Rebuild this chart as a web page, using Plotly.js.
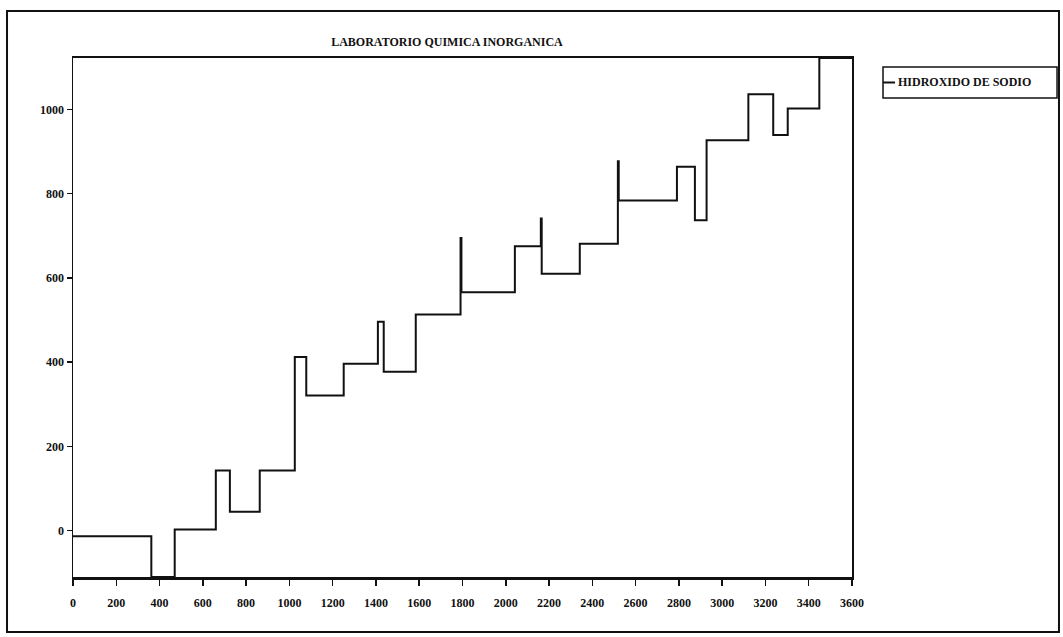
<!DOCTYPE html>
<html>
<head>
<meta charset="utf-8">
<script src="https://cdn.plot.ly/plotly-3.0.1.min.js"></script>
<style>
  html, body { margin: 0; padding: 0; background: #ffffff; }
  #chart { width: 1063px; height: 637px; }
</style>
</head>
<body>
<div id="chart"></div>
<script>
// Step change points (x) and the level held from each point onward (y)
const stepX = [0, 362, 470, 660, 725, 863, 1025, 1078, 1251, 1409, 1436, 1584, 1791, 1795, 2042, 2162, 2166, 2342, 2518, 2522, 2791, 2874, 2928, 3121, 3236, 3303, 3449, 3600];
const stepY = [-13, -110, 3, 143, 45, 143, 412, 321, 396, 496, 377, 513, 695, 566, 675, 741, 610, 681, 877, 784, 864, 737, 927, 1036, 939, 1002, 1122, 1122];

const seriesName = "HIDROXIDO DE SODIO";
const chartTitle = "LABORATORIO QUIMICA INORGANICA";
const xTickVals = [0, 200, 400, 600, 800, 1000, 1200, 1400, 1600, 1800, 2000, 2200, 2400, 2600, 2800, 3000, 3200, 3400, 3600];
const yTickVals = [0, 200, 400, 600, 800, 1000];

const FONT = "Liberation Serif, Times New Roman, serif";

const trace = {
  x: stepX,
  y: stepY,
  type: "scatter",
  mode: "lines",
  name: seriesName,
  line: { shape: "hv", color: "#111111", width: 2 },
  showlegend: false
};

const layout = {
  width: 1063,
  height: 637,
  margin: { l: 73, r: 211, t: 58, b: 60, pad: 0 },
  paper_bgcolor: "#ffffff",
  plot_bgcolor: "#ffffff",
  font: { family: FONT, color: "#111111", size: 12 },
  title: {
    text: chartTitle,
    font: { family: FONT, size: 12, color: "#111111", weight: "bold" },
    x: 0.4205, xanchor: "center", xref: "container",
    y: 0.934, yanchor: "middle", yref: "container"
  },
  xaxis: {
    range: [0, 3600],
    tickvals: xTickVals,
    ticktext: xTickVals.map(String),
    ticks: "outside", ticklen: 6, tickwidth: 1.5, tickcolor: "#111111",
    ticklabelstandoff: 7,
    showline: true, linecolor: "#111111", linewidth: 2.5, mirror: true,
    showgrid: false, zeroline: false,
    tickfont: { family: FONT, size: 12, color: "#111111", weight: "bold" }
  },
  yaxis: {
    range: [-110, 1122],
    tickvals: yTickVals,
    ticktext: yTickVals.map(String),
    ticks: "outside", ticklen: 5, tickwidth: 1.5, tickcolor: "#111111",
    showline: true, linecolor: "#111111", linewidth: 1.5, mirror: true,
    showgrid: false, zeroline: false,
    tickfont: { family: FONT, size: 12, color: "#111111", weight: "bold" }
  },
  shapes: [
    // outer frame of the whole figure
    { type: "rect", xref: "paper", yref: "paper", x0: -0.0847, x1: 1.2657, y0: -0.106, y1: 1.0906,
      line: { color: "#111111", width: 2 }, fillcolor: "rgba(0,0,0,0)", layer: "below" },
    // legend box
    { type: "rect", xref: "paper", yref: "paper", x0: 1.0398, x1: 1.2632, y0: 0.9229, y1: 0.9827,
      line: { color: "#111111", width: 1.5 }, fillcolor: "rgba(0,0,0,0)" },
    // legend line sample
    { type: "line", xref: "paper", yref: "paper", x0: 1.0398, x1: 1.0552, y0: 0.9528, y1: 0.9528,
      line: { color: "#111111", width: 2 } }
  ],
  annotations: [
    { text: seriesName, xref: "paper", yref: "paper", x: 1.0565, y: 0.9528,
      xanchor: "left", yanchor: "middle", showarrow: false,
      font: { family: FONT, size: 12, color: "#111111", weight: "bold" } }
  ]
};

Plotly.newPlot("chart", [trace], layout, { staticPlot: true, displayModeBar: false });
</script>
</body>
</html>
